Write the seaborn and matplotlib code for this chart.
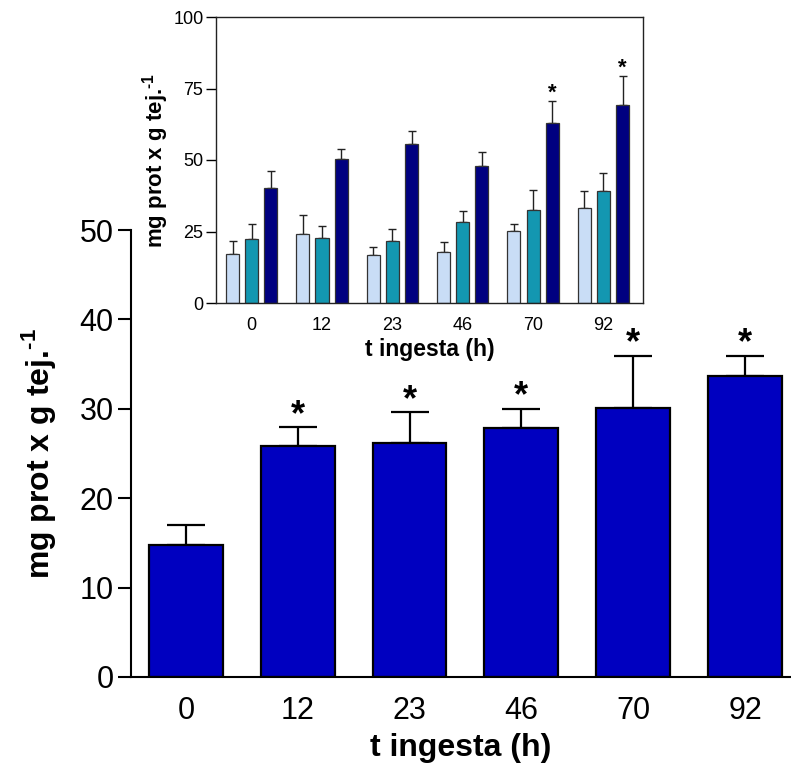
import numpy as np
import pandas as pd
import matplotlib
matplotlib.use("Agg")
import matplotlib.pyplot as plt
import seaborn as sns

# ---------------- data ----------------
hours = ["0", "12", "23", "46", "70", "92"]
main_mean = [14.8, 25.8, 26.2, 27.8, 30.1, 33.7]
main_err = [2.2, 2.15, 3.4, 2.2, 5.8, 2.2]
main_sig = ["", "*", "*", "*", "*", "*"]

series_names = ["S1", "S2", "S3"]
inset_s1 = [17.3, 24.2, 16.8, 17.9, 25.2, 33.1]
inset_s1_err = [4.4, 6.6, 2.9, 3.5, 2.5, 6.0]
inset_s2 = [22.5, 22.8, 21.7, 28.2, 32.4, 39.3]
inset_s2_err = [5.2, 4.0, 4.0, 4.0, 7.1, 6.3]
inset_s3 = [40.1, 50.2, 55.5, 47.8, 63.0, 69.2]
inset_s3_err = [6.2, 3.8, 4.7, 4.9, 7.8, 10.1]
inset_sig_s3 = ["", "", "", "", "*", "*"]

y_label = r"mg prot x g tej.$^{\mathbf{\text{-}1}}$"
x_label = "t ingesta (h)"

# ---------------- style ----------------
sns.set_style("ticks")
plt.rcParams["font.family"] = ["Liberation Sans", "DejaVu Sans"]
plt.rcParams["mathtext.fontset"] = "custom"
plt.rcParams["mathtext.rm"] = "Liberation Sans:bold"
plt.rcParams["mathtext.bf"] = "Liberation Sans:bold"
plt.rcParams["text.color"] = "black"
plt.rcParams["axes.labelcolor"] = "black"

fig = plt.figure(figsize=(7.91, 7.69), dpi=100)

# ---------------- main axes ----------------
W, H = 791, 769
ax = fig.add_axes([131 / W, 1 - 677 / H, (791 - 131) / W, (677 - 230) / H])
df_main = pd.DataFrame({"t": hours, "v": main_mean})
sns.barplot(data=df_main, x="t", y="v", order=hours, color="#0000C0",
            saturation=1, width=0.66, errorbar=None, edgecolor="black",
            linewidth=1.6, ax=ax, zorder=2)
xs = np.arange(len(hours))
ax.errorbar(xs, main_mean, yerr=[np.zeros(len(hours)), main_err], fmt="none",
            ecolor="black", elinewidth=1.6, capsize=14, capthick=1.6, zorder=1)
for x, m, e, s in zip(xs, main_mean, main_err, main_sig):
    if s:
        ax.annotate(s, (x, m + e), xytext=(0, -4), textcoords="offset points",
                    ha="center", va="bottom", fontsize=26, fontweight="bold")
ax.set_xlim(-0.49, 5.41)
ax.set_ylim(0, 50)
ax.set_yticks([0, 10, 20, 30, 40, 50])
sns.despine(ax=ax)
for sp in ["left", "bottom"]:
    ax.spines[sp].set_linewidth(1.5)
    ax.spines[sp].set_color("black")
ax.tick_params(axis="y", length=9.5, width=1.5, pad=3, labelsize=22, colors="black")
ax.tick_params(axis="x", length=0, pad=14, labelsize=22, colors="black")
ax.set_xlabel(x_label, fontsize=23, fontweight="bold")
ax.set_ylabel(y_label, fontsize=23, fontweight="bold")
ax.xaxis.set_label_coords(0.5, (677 - 733) / 447)
ax.yaxis.set_label_coords((58 - 131) / 660, 0.5)

# ---------------- inset ----------------
axi = fig.add_axes([216 / W, 1 - 303 / H, (643 - 216) / W, (303 - 17) / H])
axi.set_facecolor("white")
df_in = pd.DataFrame({
    "t": hours * 3,
    "serie": [series_names[0]] * 6 + [series_names[1]] * 6 + [series_names[2]] * 6,
    "v": inset_s1 + inset_s2 + inset_s3,
})
pal = {series_names[0]: "#C9DDF6", series_names[1]: "#1397B1", series_names[2]: "#000080"}
sns.barplot(data=df_in, x="t", y="v", hue="serie", order=hours,
            hue_order=series_names, palette=pal, saturation=1, width=0.817,
            gap=0.32, errorbar=None, edgecolor="#333333", linewidth=0.9,
            legend=False, ax=axi, zorder=2)
errs = [inset_s1_err, inset_s2_err, inset_s3_err]
vals = [inset_s1, inset_s2, inset_s3]
for cont, v, e in zip(axi.containers, vals, errs):
    cx = [b.get_x() + b.get_width() / 2 for b in cont]
    axi.errorbar(cx, v, yerr=[np.zeros(len(v)), e], fmt="none", ecolor="#222222",
                 elinewidth=1.0, capsize=3, capthick=1.0, zorder=1)
cx3 = [b.get_x() + b.get_width() / 2 for b in axi.containers[2]]
for x, m, e, s in zip(cx3, inset_s3, inset_s3_err, inset_sig_s3):
    if s:
        axi.annotate(s, (x, m + e), xytext=(0, -2), textcoords="offset points",
                     ha="center", va="bottom", fontsize=16, fontweight="bold")
axi.set_xlim(-0.507, 5.563)
axi.set_ylim(0, 100)
axi.set_yticks([0, 25, 50, 75, 100])
for sp in axi.spines.values():
    sp.set_linewidth(1.0)
    sp.set_color("#222222")
axi.tick_params(axis="y", length=7, width=1.0, pad=2, labelsize=13, colors="black")
axi.tick_params(axis="x", length=0, pad=10, labelsize=13, colors="black")
axi.set_xlabel(x_label, fontsize=16.5, fontweight="bold")
axi.set_ylabel(y_label, fontsize=16, fontweight="bold")
axi.xaxis.set_label_coords(0.5, (303 - 338) / 286)
axi.yaxis.set_label_coords((171 - 216) / 427, 0.5)

fig.savefig("out.png", dpi=100)
